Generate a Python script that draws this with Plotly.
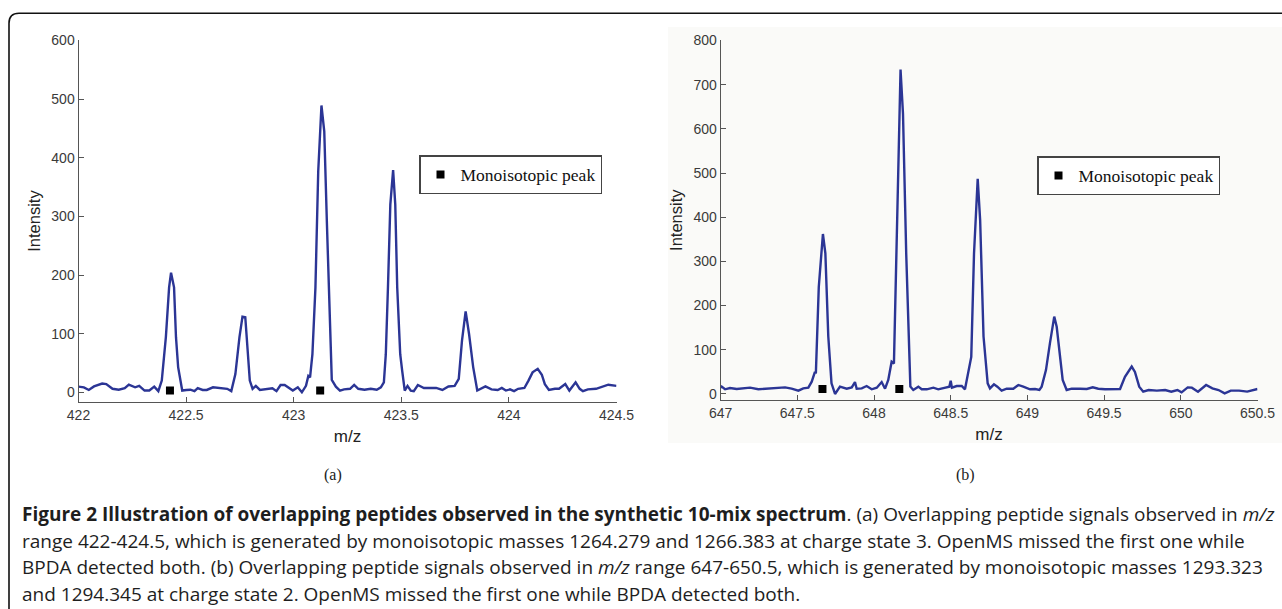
import plotly.graph_objects as go

# ---------------- data ----------------
mz_a = [422.000, 422.025, 422.048, 422.072, 422.110, 422.129, 422.158, 422.187, 422.215, 422.234,
        422.263, 422.282, 422.307, 422.329, 422.352, 422.371, 422.387, 422.406, 422.421, 422.430,
        422.444, 422.453, 422.463, 422.482, 422.501, 422.520, 422.539, 422.554, 422.577, 422.596,
        422.625, 422.663, 422.691, 422.710, 422.729, 422.748, 422.762, 422.775, 422.786, 422.796,
        422.809, 422.824, 422.843, 422.872, 422.901, 422.920, 422.939, 422.958, 422.977, 422.996,
        423.019, 423.038, 423.057, 423.068, 423.076, 423.087, 423.101, 423.114, 423.129, 423.142,
        423.154, 423.167, 423.177, 423.196, 423.215, 423.234, 423.262, 423.281, 423.300, 423.329,
        423.358, 423.386, 423.405, 423.419, 423.428, 423.438, 423.449, 423.462, 423.472, 423.481,
        423.495, 423.504, 423.516, 423.529, 423.544, 423.558, 423.577, 423.605, 423.662, 423.691,
        423.719, 423.748, 423.767, 423.782, 423.799, 423.815, 423.834, 423.853, 423.872, 423.891,
        423.919, 423.948, 423.967, 423.986, 424.005, 424.024, 424.043, 424.072, 424.091, 424.110,
        424.134, 424.153, 424.167, 424.186, 424.214, 424.233, 424.262, 424.281, 424.310, 424.329,
        424.344, 424.367, 424.405, 424.433, 424.462, 424.500]
int_a = [9.6, 8.5, 4, 10, 15, 14, 6, 4.5, 7, 13,
         8.5, 11, 3, 3, 9.6, 2, 20, 94, 179, 204,
         179, 94, 43, 3, 4, 4.5, 2, 7, 4, 4,
         8.5, 7.4, 6, 2, 31, 94, 129, 128, 77, 20,
         6, 11, 4, 6, 7, 2, 12.5, 12.5, 7, 3,
         8.5, 0, 11, 28, 25.5, 65, 179, 377, 489, 445,
         292, 122, 21, 9.6, 3, 5, 6, 12.5, 6, 4.5,
         6, 4.5, 8.5, 17, 65, 179, 320, 379, 320, 179,
         65, 37, 3, 11, 3, 2, 12.5, 7.4, 7.4, 4,
         10, 11, 23, 88, 138, 99, 43, 3, 6, 10,
         5, 4, 7.4, 3, 5, 2, 6, 7.4, 20, 34,
         40, 30, 14, 4, 6, 6, 14, 3, 17, 6,
         2, 5, 6, 10, 13, 11]
mono_mz_a = [422.425, 423.123]
mono_int_a = [3, 3]

mz_b = [647.000, 647.007, 647.029, 647.061, 647.105, 647.192, 647.246, 647.300, 647.366, 647.420,
        647.463, 647.507, 647.539, 647.572, 647.594, 647.615, 647.621, 647.640, 647.667, 647.683,
        647.702, 647.723, 647.746, 647.778, 647.822, 647.855, 647.876, 647.887, 647.920, 647.952,
        647.985, 648.018, 648.050, 648.072, 648.093, 648.115, 648.130, 648.152, 648.173, 648.189,
        648.210, 648.237, 648.256, 648.289, 648.311, 648.344, 648.387, 648.419, 648.463, 648.491,
        648.500, 648.508, 648.539, 648.572, 648.593, 648.626, 648.634, 648.652, 648.676, 648.692,
        648.714, 648.741, 648.756, 648.782, 648.804, 648.832, 648.865, 648.908, 648.941, 648.973,
        649.017, 649.050, 649.078, 649.093, 649.121, 649.147, 649.175, 649.191, 649.212, 649.230,
        649.256, 649.289, 649.343, 649.387, 649.426, 649.462, 649.506, 649.560, 649.604, 649.636,
        649.680, 649.701, 649.729, 649.755, 649.790, 649.844, 649.898, 649.938, 649.978, 650.005,
        650.045, 650.072, 650.112, 650.165, 650.206, 650.246, 650.286, 650.326, 650.380, 650.433,
        650.473, 650.500]
int_b = [14, 16.6, 10.6, 13.6, 11.3, 14.3, 10.6, 12, 12, 15,
         12, 7.5, 12.8, 14.3, 27.9, 50, 46.7, 242, 362, 318,
         130, 24, 0, 16.6, 12, 15, 27, 12, 12.8, 18,
         10.6, 14.3, 27, 12, 31.7, 73, 69, 393, 734, 634,
         318, 16.6, 9, 16.6, 10.6, 10.6, 14.3, 10.6, 15, 16.6,
         30, 14.3, 18, 18, 10.6, 77, 84, 318, 487, 393,
         130, 24, 12.8, 21.9, 16.6, 7.5, 12, 12, 20.4, 16.6,
         10.6, 11.3, 9, 16.6, 54, 115, 175, 152, 92, 32,
         9, 12, 12, 11.3, 15, 12, 10.6, 10.6, 11.3, 39,
         62, 50, 16.6, 5.3, 9, 7.5, 9, 5.3, 9, 3.8,
         15, 14.3, 5.3, 20.3, 12.8, 9, 1.5, 7.5, 7.5, 5.3,
         9, 11.3]
mono_mz_b = [647.664, 648.165]
mono_int_b = [11.3, 11.3]

xticks_a = [422, 422.5, 423, 423.5, 424, 424.5]
xticklabels_a = ["422", "422.5", "423", "423.5", "424", "424.5"]
yticks_a = [0, 100, 200, 300, 400, 500, 600]
xticks_b = [647, 647.5, 648, 648.5, 649, 649.5, 650, 650.5]
xticklabels_b = ["647", "647.5", "648", "648.5", "649", "649.5", "650", "650.5"]
yticks_b = [0, 100, 200, 300, 400, 500, 600, 700, 800]

legend_label = "Monoisotopic peak"
panel_labels = ["(a)", "(b)"]
caption_lines = [
    "<b>Figure 2 Illustration of overlapping peptides observed in the synthetic 10-mix spectrum</b>. "
    "(a) Overlapping peptide signals observed in <i>m/z</i>",
    "range 422-424.5, which is generated by monoisotopic masses 1264.279 and 1266.383 at charge state 3. "
    "OpenMS missed the first one while",
    "BPDA detected both. (b) Overlapping peptide signals observed in <i>m/z</i> range 647-650.5, "
    "which is generated by monoisotopic masses 1293.323",
    "and 1294.345 at charge state 2. OpenMS missed the first one while BPDA detected both.",
]

# ---------------- figure ----------------
W, H = 1282, 609
LINE = "#2b3595"
AX = "#555555"
TICKFONT = dict(family="Liberation Sans, Arial", size=14, color="#3a3a3a")
TITLEFONT = dict(family="Liberation Sans, Arial", size=17, color="#222")

def px(x):
    return x / W

def py(y):
    return 1 - y / H

fig = go.Figure()
fig.add_trace(go.Scatter(x=mz_a, y=int_a, mode="lines", line=dict(color=LINE, width=2.4),
                         showlegend=False, xaxis="x", yaxis="y", hoverinfo="skip"))
fig.add_trace(go.Scatter(x=mono_mz_a, y=mono_int_a, mode="markers", name=legend_label,
                         marker=dict(symbol="square", size=8, color="black"),
                         xaxis="x", yaxis="y", legend="legend"))
fig.add_trace(go.Scatter(x=mz_b, y=int_b, mode="lines", line=dict(color=LINE, width=2.4),
                         showlegend=False, xaxis="x2", yaxis="y2", hoverinfo="skip"))
fig.add_trace(go.Scatter(x=mono_mz_b, y=mono_int_b, mode="markers", name=legend_label,
                         marker=dict(symbol="square", size=8, color="black"),
                         xaxis="x2", yaxis="y2", legend="legend2"))

axis_common = dict(showgrid=False, zeroline=False, showline=True, linecolor=AX, linewidth=1,
                   ticks="inside", ticklen=5, tickcolor=AX, tickfont=TICKFONT, mirror=False)

legend_common = dict(xanchor="left", yanchor="top", bordercolor="#444", borderwidth=1.5,
                     bgcolor="white", itemwidth=30,
                     font=dict(family="Liberation Serif, Times New Roman", size=17.5, color="#111"))

fig.update_layout(
    width=W, height=H,
    margin=dict(l=0, r=0, t=0, b=0, autoexpand=False),
    paper_bgcolor="white", plot_bgcolor="rgba(0,0,0,0)",
    xaxis=dict(domain=[px(78.5), px(616.5)], range=[422, 424.5], anchor="y",
               tickvals=xticks_a, ticktext=xticklabels_a,
               title=dict(text="m/z", font=TITLEFONT, standoff=8),
               **axis_common),
    yaxis=dict(domain=[py(401.7), py(40.4)], range=[-16, 600], anchor="x",
               tickvals=yticks_a,
               title=dict(text="Intensity", font=dict(TITLEFONT, size=16.5), standoff=6),
               **axis_common),
    xaxis2=dict(domain=[px(720.6), px(1257.5)], range=[647, 650.5], anchor="y2",
                tickvals=xticks_b, ticktext=xticklabels_b,
                title=dict(text="m/z", font=TITLEFONT, standoff=8),
                **axis_common),
    yaxis2=dict(domain=[py(400), py(40.4)], range=[-13.6, 800], anchor="x2",
                tickvals=yticks_b,
                title=dict(text="Intensity", font=dict(TITLEFONT, size=16.5), standoff=6),
                **axis_common),
    legend=dict(x=px(419), y=py(155), **legend_common),
    legend2=dict(x=px(1037), y=py(156), **legend_common),
)

# background of panel (b) and outer rounded frame
r_x, r_y = 10 / W, 10 / H
fig.add_shape(type="rect", xref="paper", yref="paper", x0=px(668), x1=1.0, y0=py(443), y1=py(27),
              fillcolor="#fafaf8", line=dict(width=0), layer="below")
fx, fy = px(9), py(13.3)
fig.add_shape(type="path", xref="paper", yref="paper", layer="above",
              path=f"M {fx},-0.05 L {fx},{fy - r_y} Q {fx},{fy} {fx + r_x},{fy} L 1.05,{fy}",
              line=dict(color="#111", width=1.6))

# panel labels
for lab, xpos in zip(panel_labels, [333, 965]):
    fig.add_annotation(text=lab, xref="paper", yref="paper", x=px(xpos), y=py(475),
                       showarrow=False, xanchor="center", yanchor="middle",
                       font=dict(family="Liberation Serif, Times New Roman", size=16, color="#222"))

# caption
for i, line in enumerate(caption_lines):
    fig.add_annotation(text=line, xref="paper", yref="paper", x=px(20), y=py(514 + 26.5 * i),
                       showarrow=False, xanchor="left", yanchor="middle", align="left",
                       font=dict(family="Open Sans", size=19, color="#1e1e1e"))

fig.write_html("out.html", config={"displayModeBar": False},
               post_script="document.body.style.margin='0px';")
